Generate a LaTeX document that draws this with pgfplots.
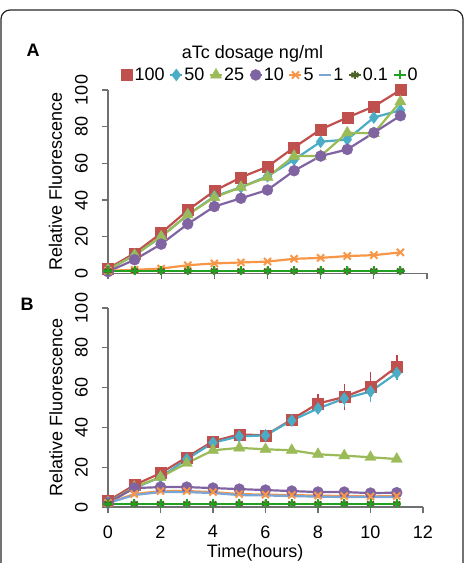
\documentclass[border=0pt]{standalone}
\usepackage{fontspec}
\setmainfont{Liberation Sans}
\usepackage{pgfplots}
\pgfplotsset{compat=1.18}
\usepackage{pgfplotstable}

\definecolor{c100}{HTML}{C0504D}
\definecolor{c50}{HTML}{4BACC6}
\definecolor{c25}{HTML}{9BBB59}
\definecolor{c10}{HTML}{8064A2}
\definecolor{c5}{HTML}{F79646}
\definecolor{c1}{HTML}{7AA6D6}
\definecolor{c01}{HTML}{4F6228}
\definecolor{c0}{HTML}{22A022}
\definecolor{axgray}{HTML}{707070}

\pgfplotstableread{
x r100 c50 g25 p10 o5 b1 d01 g0
0 2.7 2 2 1 1.5 1.5 1.5 1.5
1 11 10 10 7.5 2 1.5 1.5 1.5
2 22 20 20 16 2.7 1.5 1.5 1.5
3 34.5 32 32 27 4.5 1.5 1.5 1.5
4 45 42 41.5 36.5 5.5 1.5 1.5 1.5
5 52.4 47 47 41 6 1.5 1.5 1.5
6 58.2 53 52.5 45.5 6.5 1.5 1.5 1.5
7 68.7 62 64 56 8 1.5 1.5 1.5
8 78.5 71.8 64 64 8.5 1.5 1.5 1.5
9 85 73 76.7 67.6 9.5 1.5 1.5 1.5
10 91 85 76.4 76.7 10 1.5 1.5 1.5
11 100 89 93.6 86 11.5 1.5 1.5 1.5
}\dataA

\pgfplotstableread{
x r100 er c50 ec g25 p10 o5 b1 d01 g0
0 3 0.8 2.5 0.5 2 2 2 2 1.7 1.7
1 11 1 9.5 1 10 9.5 6.5 6 1.7 1.7
2 17 1 15 1 15 10 8 7.5 1.7 1.7
3 25 1 24 1 22 10 8 7.5 1.7 1.7
4 33 1.5 32.3 1 28.5 9.5 7.5 7 1.7 1.7
5 36.5 1.5 35.5 1 29.7 9 6.5 6 1.7 1.7
6 36 1.5 36 1 29 8.5 6.2 5.8 1.7 1.7
7 44 2 43.5 1.5 28.5 8 6 5.5 1.7 1.7
8 52 5 49.5 3 26.5 7.5 5.7 5.2 1.7 1.7
9 55.3 6.5 54.5 4 25.8 7.5 5.5 5 1.7 1.7
10 60.5 7.5 58 5 25 7 5.3 5 1.7 1.7
11 70.5 6 67.3 3.5 24.1 7.2 5.5 5 1.7 1.7
}\dataB

\pgfplotsset{
  myaxis/.style={
    scale only axis, xmin=0, xmax=12, ymin=0, ymax=100, clip=false,
    axis lines=left, axis line style={-, draw=axgray, line width=1.3pt},
    xtick={0,2,...,12}, ytick={0,20,...,100},
    tick align=outside, major tick length=6pt,
    tick style={draw=axgray, line width=1.3pt},
    /pgf/number format/assume math mode=true,
    ticklabel style={font=\fontsize{18}{21}\selectfont},
    yticklabel style={rotate=90, anchor=south, inner ysep=14pt},
    xticklabel style={yshift=-9pt},
    label style={font=\fontsize{18}{21}\selectfont},
    ylabel={Relative Fluorescence},
    ylabel style={at={(axis description cs:-0.165,0.5)}, anchor=center},
    legend image code/.code={\draw[mark repeat=2,mark phase=2,#1] plot coordinates {(0pt,0pt) (6pt,0pt) (12pt,0pt)};},
  },
  s100/.style={color=c100, line width=2.2pt, mark=square*, mark size=5.5pt, mark options={line width=0.4pt}},
  s50/.style={color=c50, line width=2.2pt, mark=diamond*, mark size=6pt, mark options={line width=0.4pt}},
  s25/.style={color=c25, line width=2.2pt, mark=triangle*, mark size=6.5pt, mark options={line width=0.4pt}},
  s10/.style={color=c10, line width=2.2pt, mark=*, mark size=5.5pt, mark options={line width=0.4pt}},
  s5/.style={color=c5, line width=2.2pt, mark=x, mark size=5pt, mark options={line width=2pt}},
  s1/.style={color=c1, line width=2.2pt, no markers},
  s01/.style={color=c01, line width=2.2pt, mark=asterisk, mark size=4pt, mark options={line width=2pt}},
  s0/.style={color=c0, line width=2.2pt, mark=+, mark size=4.5pt, mark options={line width=2pt}},
}

\begin{document}
\begin{tikzpicture}
\useasboundingbox (0pt,0pt) rectangle (467pt,563pt);
\draw[line width=1.2pt, rounded corners=9pt, color=black!85] (1pt,-10pt) -- (1pt,553pt) -- (463pt,553pt) -- (463pt,-10pt);

\node[font=\bfseries\fontsize{18}{21}\selectfont] at (33pt,513pt) {A};
\node[font=\bfseries\fontsize{18}{21}\selectfont] at (27pt,259pt) {B};
\node[font=\fontsize{18}{21}\selectfont] at (252.5pt,509pt) {aTc dosage ng/ml};

\begin{axis}[myaxis, at={(108pt,289.5pt)}, anchor=south west, width=319pt, height=183.5pt,
  xticklabels={},
  legend columns=8,
  legend style={at={(axis description cs:0.505,1.082)}, anchor=center, draw=none, fill=none,
    font=\fontsize{18}{21}\selectfont, inner sep=0pt,
    /tikz/every even column/.append style={column sep=3.5pt},
    nodes={inner sep=1pt}},
]
\addplot[s100] table[x=x,y=r100] {\dataA};
\addplot[s50] table[x=x,y=c50] {\dataA};
\addplot[s25] table[x=x,y=g25] {\dataA};
\addplot[s10] table[x=x,y=p10] {\dataA};
\addplot[s5] table[x=x,y=o5] {\dataA};
\addplot[s1] table[x=x,y=b1] {\dataA};
\addplot[s01] table[x=x,y=d01] {\dataA};
\addplot[s0] table[x=x,y=g0] {\dataA};
\legend{100,50,25,10,5,1,0.1,0}
\end{axis}

\begin{axis}[myaxis, at={(108pt,56pt)}, anchor=south west, width=315pt, height=199pt,
  xlabel={Time(hours)},
  xlabel style={at={(axis description cs:0.467,-0.232)}, anchor=center},
]
\addplot[s100, error bars/.cd, y dir=both, y explicit, error mark=none,
  error bar style={line width=1.5pt, color=c100!80!purple}] table[x=x,y=r100,y error=er] {\dataB};
\addplot[s50, error bars/.cd, y dir=both, y explicit, error mark=none,
  error bar style={line width=1.5pt, color=c50}] table[x=x,y=c50,y error=ec] {\dataB};
\addplot[s25] table[x=x,y=g25] {\dataB};
\addplot[s10] table[x=x,y=p10] {\dataB};
\addplot[s5] table[x=x,y=o5] {\dataB};
\addplot[s1] table[x=x,y=b1] {\dataB};
\addplot[s01] table[x=x,y=d01] {\dataB};
\addplot[s0] table[x=x,y=g0] {\dataB};
\end{axis}
\end{tikzpicture}
\end{document}
